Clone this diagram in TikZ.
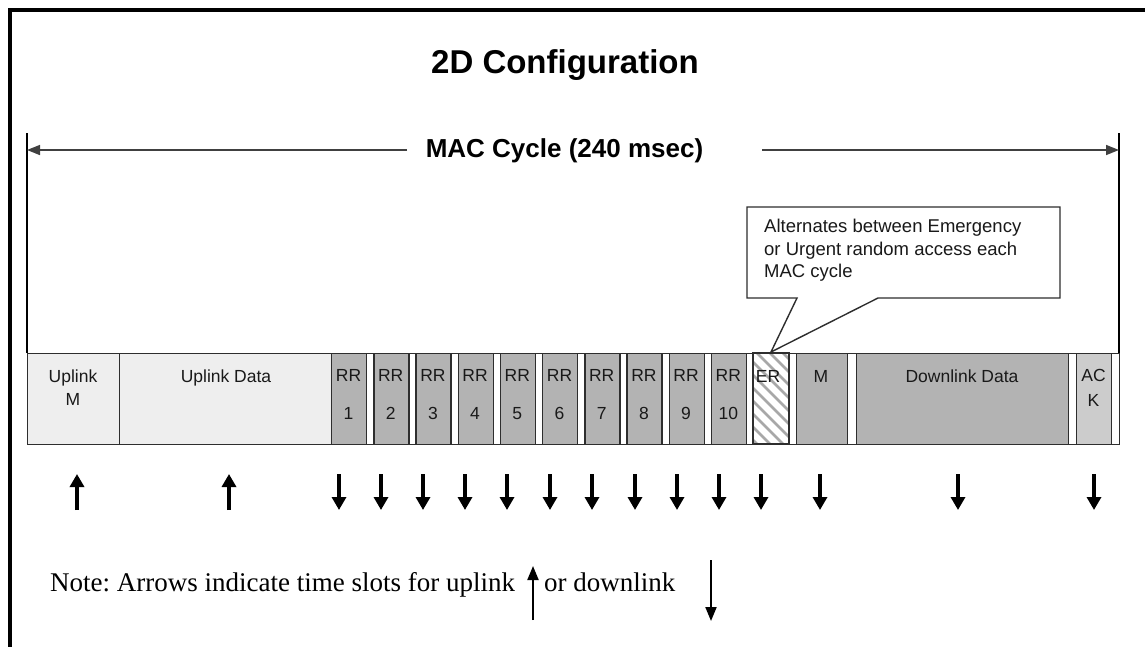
\documentclass[tikz,border=0pt]{standalone}
\usepackage{fontspec}
\setmainfont{Liberation Serif}
\setsansfont{Liberation Sans}
\usetikzlibrary{arrows.meta}
\definecolor{lightslot}{HTML}{EEEEEE}
\definecolor{rrgray}{HTML}{B3B3B3}
\definecolor{ackgray}{HTML}{CCCCCC}
\definecolor{edge}{HTML}{2E2E2E}
\definecolor{hatch}{HTML}{A8A8A8}
\definecolor{macline}{HTML}{404040}
\begin{document}
\frenchspacing
\begin{tikzpicture}[x=1pt,y=-1pt,
  slotbox/.style={draw=edge,line width=1.4pt,anchor=north west,inner sep=0pt,minimum height=91pt},
  lbl/.style={font=\sffamily\fontsize{17.5}{20}\selectfont,text=black!90,anchor=base,inner sep=0pt},
  bigarrow/.style={line width=3.8pt,-{Triangle[length=13pt,width=14pt]}},
  notearrow/.style={line width=2pt,-{Triangle[length=14pt,width=11pt]}},
  macarrow/.style={draw=macline,line width=1.5pt,-{Triangle[length=13pt,width=10pt]}},
  tick/.style={draw=black,line width=1.4pt}]
\useasboundingbox (0,0) rectangle (1145,646);
\fill[white] (0,0) rectangle (1145,646);
% outer frame (top and left)
\draw[line width=4pt] (10,660) -- (10,10) -- (1160,10);

% title
\node[font=\sffamily\bfseries\fontsize{33}{36}\selectfont,anchor=base,inner sep=0pt] (title) at (565,73) {2D Configuration};

% MAC cycle span
\coordinate (tl) at (27,133);
\coordinate (tr) at (1119,133);
\coordinate (bl) at (27,353);
\coordinate (br) at (1119,353);
\draw[tick] (tl) -- (bl);
\draw[tick] (tr) -- (br);
\node[font=\sffamily\bfseries\fontsize{26}{30}\selectfont,anchor=base,inner sep=0pt] (mac) at (564.5,157) {MAC Cycle (240 msec)};
\coordinate (macl) at (407,150);
\coordinate (macr) at (762,150);
\coordinate (macle) at (27,150);
\coordinate (macre) at (1119,150);
\draw[macarrow] (macl) -- (macle);
\draw[macarrow] (macr) -- (macre);

% slot row background
\node[slotbox,fill=white,minimum width=1092pt] (row) at (27,353) {};

% slots
\node[slotbox,fill=lightslot,minimum width=92pt] (upm) at (27,353) {};
\node[slotbox,fill=lightslot,minimum width=212pt] (upd) at (119,353) {};
\foreach \k in {1,...,10}{
  \pgfmathsetmacro{\xx}{331+42.2*(\k-1)}
  \node[slotbox,fill=rrgray,minimum width=35pt] (rr\k) at (\xx,353) {};
  \node[lbl] (rrt\k) at ({\xx+17.5},381.5) {RR};
  \node[lbl] (rrn\k) at ({\xx+17.5},419.5) {\k};
}
% ER hatched
\node[slotbox,fill=white,minimum width=36pt] (er) at (753,353) {};
\begin{scope}
  \clip (753,353) rectangle (789,444);
  \foreach \a in {640,653,...,800}{
    \draw[hatch,line width=2.8pt] (\a,353) -- ++(91,91);
  }
\end{scope}
\draw[edge,line width=1.4pt] (753,353) rectangle (789,444);
\node[slotbox,fill=rrgray,minimum width=51pt] (m) at (796,353) {};
\node[slotbox,fill=rrgray,minimum width=212pt] (dd) at (856,353) {};
\node[slotbox,fill=ackgray,minimum width=35pt] (ack) at (1076,353) {};

% slot labels
\node[lbl] (upmt) at (73,382) {Uplink};
\node[lbl] (upmb) at (73,405) {M};
\node[lbl] (updt) at (226,382) {Uplink Data};
\node[lbl] (ert) at (768,382) {ER};
\node[lbl] (mt) at (821,382) {M};
\node[lbl] (ddt) at (962,382) {Downlink Data};
\node[lbl] (ackt) at (1093.5,381.5) {AC};
\node[lbl] (ackb) at (1093.5,406.5) {K};

% callout
\draw[edge,line width=1.4pt,fill=white] (747,207) -- (1060,207) -- (1060,298) -- (878,298) -- (771,352) -- (797,298) -- (747,298) -- cycle;
\node[font=\sffamily\fontsize{18.5}{22.5}\selectfont,text=black!90,align=left,anchor=north west,inner sep=0pt] (callout) at (764,219)
  {Alternates between Emergency\\or Urgent random access each\\MAC cycle};

% time slot arrows
\foreach \x [count=\i] in {77,229}{
  \coordinate (ua\i) at (\x,510);
  \coordinate (ub\i) at (\x,474);
  \draw[bigarrow] (ua\i) -- (ub\i);
}
\foreach \x [count=\i] in {339,381,423,465,507,550,592,635,677,719,761,820,958,1094}{
  \coordinate (da\i) at (\x,474);
  \coordinate (db\i) at (\x,510);
  \draw[bigarrow] (da\i) -- (db\i);
}

% note
\node[font=\fontsize{27}{31}\selectfont,anchor=base west,inner sep=0pt] (note) at (50,591) {Note: Arrows indicate time slots for uplink};
\node[font=\fontsize{27}{31}\selectfont,anchor=base west,inner sep=0pt] (note2) at (544,591) {or downlink};
\coordinate (nua) at (533,620);
\coordinate (nub) at (533,566);
\draw[notearrow] (nua) -- (nub);
\coordinate (nda) at (711,560);
\coordinate (ndb) at (711,621);
\draw[notearrow] (nda) -- (ndb);
\end{tikzpicture}
\end{document}
